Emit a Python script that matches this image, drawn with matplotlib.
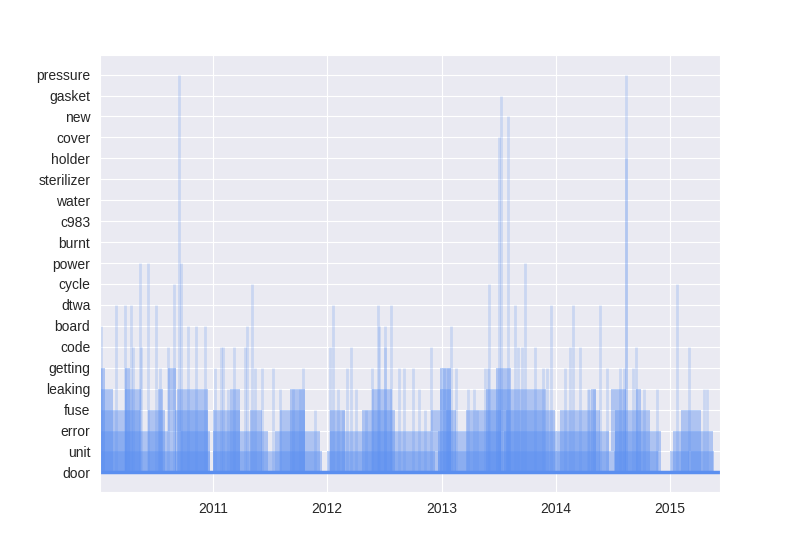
import numpy as np
import pandas as pd
import matplotlib
matplotlib.use('Agg')
import matplotlib.pyplot as plt
import matplotlib.dates as mdates
import seaborn as sns

sns.set_style('darkgrid')
plt.rcParams['font.family'] = ['Liberation Sans', 'DejaVu Sans']

# palabras, de abajo (0) hacia arriba (19)
words = ['door', 'unit', 'error', 'fuse', 'leaking', 'getting', 'code', 'board',
         'dtwa', 'cycle', 'power', 'burnt', 'c983', 'water', 'sterilizer',
         'holder', 'cover', 'new', 'gasket', 'pressure']

# fechas (año decimal) en que aparece cada palabra poco frecuente
spikes = {
    'pressure': [2010.702, 2014.614],
    'gasket': [2013.518],
    'new': [2013.579],
    'cover': [2013.500],
    'holder': [2014.614],
    'power': [2010.360, 2010.430, 2010.719, 2013.728],
    'cycle': [2010.658, 2011.342, 2013.412, 2015.061],
    'dtwa': [2010.149, 2010.228, 2010.281, 2010.500, 2012.053, 2012.447,
             2012.561, 2013.640, 2013.956, 2014.149, 2014.386],
    'board': [2010.018, 2010.781, 2010.851, 2010.930, 2011.298, 2012.456,
              2012.509, 2013.079],
    'code': [2010.298, 2010.368, 2010.605, 2011.070, 2011.088, 2011.184,
             2011.281, 2012.026, 2012.211, 2012.509, 2012.912, 2013.667,
             2013.702, 2013.816, 2014.123, 2014.211, 2014.702, 2015.167],
    'getting': [2010.009, 2010.535, 2011.018, 2011.368, 2011.430, 2011.526,
                2011.789, 2012.175, 2012.395, 2012.632, 2012.675, 2012.746,
                2013.026, 2013.053, 2013.123, 2013.377, 2013.404, 2013.886,
                2013.921, 2014.079, 2014.447, 2014.561, 2014.596, 2014.675],
    'leaking': [2011.132, 2011.588, 2011.702, 2011.763, 2012.096, 2012.254,
                2012.807, 2013.228, 2013.281, 2014.281, 2014.289, 2014.333,
                2014.772, 2014.886, 2015.298, 2015.325],
    'fuse': [2011.895, 2012.140, 2012.342, 2012.851, 2013.307],
}

# periodos (inicio, fin) en que la palabra aparece casi todos los días
periods = {
    'unit': [(2010.009, 2010.974), (2011.000, 2011.956), (2012.000, 2012.939),
             (2012.965, 2014.482), (2014.509, 2014.895), (2015.000, 2015.167),
             (2015.184, 2015.386)],
    'error': [(2010.009, 2010.605), (2010.719, 2010.974), (2011.000, 2011.482),
              (2011.544, 2011.939), (2012.026, 2012.904), (2012.965, 2013.518),
              (2013.544, 2014.465), (2014.518, 2014.921), (2015.026, 2015.377)],
    'fuse': [(2010.009, 2010.360), (2010.430, 2010.579), (2010.667, 2010.956),
             (2011.000, 2011.237), (2011.325, 2011.430), (2011.588, 2011.807),
             (2012.026, 2012.158), (2012.307, 2012.597), (2012.904, 2012.991),
             (2013.035, 2013.123), (2013.211, 2013.518), (2013.561, 2013.991),
             (2014.035, 2014.386), (2014.518, 2014.825), (2015.096, 2015.272)],
    'leaking': [(2010.009, 2010.123), (2010.228, 2010.368), (2010.518, 2010.561),
                (2010.684, 2010.956), (2011.149, 2011.237), (2011.675, 2011.807),
                (2012.395, 2012.570), (2012.991, 2013.079), (2013.386, 2013.912),
                (2014.307, 2014.351), (2014.482, 2014.614), (2014.702, 2014.746)],
    'getting': [(2010.009, 2010.053), (2010.228, 2010.272), (2010.605, 2010.675),
                (2012.991, 2013.079), (2013.474, 2013.605)],
}

door_range = (2010.009, 2015.439)


def fecha(v):
    return pd.Timestamp('2010-01-01') + pd.Timedelta(days=(v - 2010) * 365.25)


color = '#5b8ff0'
fig, ax = plt.subplots(figsize=(8, 5.47), dpi=100)
fig.subplots_adjust(left=0.125, right=0.9, bottom=0.1, top=0.9)

for word, pers in periods.items():
    nivel = words.index(word)
    for a, b in pers:
        ax.fill_between([fecha(a), fecha(b)], 0, nivel, color=color,
                        alpha=0.42, lw=0)

for word, fechas in spikes.items():
    nivel = words.index(word)
    ax.vlines([fecha(v) for v in fechas], 0, nivel, color=color,
              alpha=0.22, lw=2)

ax.hlines(0, fecha(door_range[0]), fecha(door_range[1]), color=color, lw=2.5)

ax.set_xlim(fecha(door_range[0]), fecha(door_range[1]))
ax.set_ylim(-0.95, 19.95)
ax.set_yticks(range(len(words)))
ax.set_yticklabels(words)
ax.xaxis.set_major_locator(mdates.YearLocator())
ax.xaxis.set_major_formatter(mdates.DateFormatter('%Y'))
ax.tick_params(labelsize=10)

plt.savefig('out.png')
